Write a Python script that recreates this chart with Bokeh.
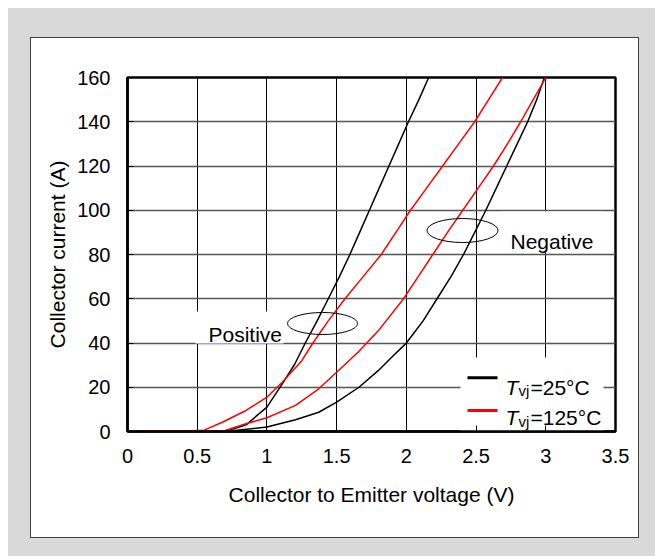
from bokeh.plotting import figure
from bokeh.models import Range1d, FixedTicker, BoxAnnotation, Label
from bokeh.embed import file_html
from bokeh.resources import INLINE

# ---------------- data ----------------
x_ticks = [0, 0.5, 1, 1.5, 2, 2.5, 3, 3.5]
x_tick_labels = ["0", "0.5", "1", "1.5", "2", "2.5", "3", "3.5"]
y_ticks = [0, 20, 40, 60, 80, 100, 120, 140, 160]
y_tick_labels = ["0", "20", "40", "60", "80", "100", "120", "140", "160"]

# "Positive" group, Tvj = 25 C (black, steep)
pos25_v = [0.55, 0.73, 0.85, 1.00, 1.11, 1.20, 1.275, 1.36, 1.44, 1.52, 1.595,
           1.665, 1.735, 1.805, 1.875, 1.945, 2.015, 2.09, 2.16]
pos25_i = [0.2, 0.5, 3.0, 11.0, 21.5, 30.5, 40, 50, 60, 70, 80,
           90, 100, 110, 120, 130, 140, 150, 160]

# "Positive" group, Tvj = 125 C (red, steep)
pos125_v = [0.10, 0.45, 0.55, 0.68, 0.85, 1.00, 1.11, 1.25, 1.33, 1.44, 1.56,
            1.69, 1.82, 1.925, 2.03, 2.145, 2.26, 2.375, 2.49, 2.59, 2.69]
pos125_i = [0.2, 0.3, 0.6, 4.2, 9.5, 15.5, 22.3, 32, 40, 50, 60,
            70, 80, 90, 100, 110, 120, 130, 140, 150, 160]

# "Negative" group, Tvj = 125 C (red, shallow)
neg125_v = [0.15, 0.70, 0.85, 1.00, 1.205, 1.372, 1.50, 1.655, 1.80, 1.98, 2.085,
            2.19, 2.295, 2.405, 2.515, 2.625, 2.725, 2.82, 2.91, 3.00]
neg125_i = [0.2, 0.5, 3.5, 6.2, 11.8, 19.3, 26.8, 35.9, 45.6, 60, 70,
            80, 90, 100, 110, 120, 130, 140, 150, 160]

# "Negative" group, Tvj = 25 C (black, shallow)
neg25_v = [0.60, 0.77, 1.00, 1.205, 1.372, 1.50, 1.66, 1.80, 1.92, 2.00, 2.12,
           2.22, 2.32, 2.41, 2.49, 2.57, 2.645, 2.72, 2.795, 2.87, 2.935, 2.99]
neg25_i = [0.2, 0.5, 2.0, 5.3, 8.7, 13.3, 20, 27.6, 35.1, 40, 50,
           60, 70, 80, 90, 100, 110, 120, 130, 140, 150, 160]

# ---------------- layout (page px) ----------------
PANEL_L, PANEL_T, PANEL_R, PANEL_B = 31, 38, 638, 537   # white panel
FL, FR, FT, FB = 127, 615, 77, 431                      # plot frame
XMAX, YMAX = 3.5, 160
FONT = "Liberation Sans"
GRAY = "#d9d9d9"

def vx(px):   # page px -> data x
    return (px - FL) / (FR - FL) * XMAX

def iy(py):   # page px -> data y
    return (FB - py) / (FB - FT) * YMAX

p = figure(width=PANEL_R - PANEL_L, height=PANEL_B - PANEL_T,
           output_backend="svg", toolbar_location=None,
           x_range=Range1d(0, XMAX), y_range=Range1d(0, YMAX),
           min_border_left=FL - PANEL_L, min_border_right=PANEL_R - FR,
           min_border_top=FT - PANEL_T, min_border_bottom=PANEL_B - FB)
p.styles = {"margin-left": f"{PANEL_L}px", "margin-top": f"{PANEL_T}px",
            "box-shadow": f"0 0 0 1px #404040, 7px 0 0 30px {GRAY}"}
p.border_fill_color = "white"
p.background_fill_color = "white"
p.outline_line_color = "black"
p.outline_line_width = 2.5

# axes
p.xaxis.ticker = FixedTicker(ticks=x_ticks)
p.yaxis.ticker = FixedTicker(ticks=y_ticks)
p.xaxis.major_label_overrides = dict(zip(x_ticks, x_tick_labels))
p.yaxis.major_label_overrides = dict(zip(y_ticks, y_tick_labels))
for ax in (p.xaxis, p.yaxis):
    ax.axis_line_color = "black"
    ax.axis_line_width = 2.5
    ax.major_tick_in = 6
    ax.major_tick_out = 0
    ax.major_tick_line_color = "black"
    ax.minor_tick_line_color = None
    ax.major_label_text_font = FONT
    ax.major_label_text_font_size = "20px"
    ax.major_label_text_color = "black"
    ax.axis_label_text_font = FONT
    ax.axis_label_text_font_size = "21px"
    ax.axis_label_text_font_style = "normal"
    ax.axis_label_text_color = "black"
p.xaxis.axis_label = "Collector to Emitter voltage (V)"
p.yaxis.axis_label = "Collector current (A)"
p.xaxis.major_label_standoff = 17
p.yaxis.major_label_standoff = 17
p.xaxis.axis_label_standoff = 17
p.yaxis.axis_label_standoff = 5

p.xgrid.grid_line_color = "black"
p.xgrid.grid_line_width = 1
p.ygrid.grid_line_color = "#555555"
p.ygrid.grid_line_width = 1.5

# white boxes behind annotations / legend (cover grid, below curves)
for (l, t, r, b) in [(195, 311, 283, 343),     # Positive
                     (500, 211, 603, 252),     # Negative
                     (460, 357, 603, 431)]:    # legend
    p.add_layout(BoxAnnotation(left=vx(l), right=vx(r), top=iy(t), bottom=iy(b),
                               fill_color="white", fill_alpha=1, line_color=None,
                               level="underlay"))

# curves
p.line(neg25_v, neg25_i, line_color="black", line_width=1.5)
p.line(pos25_v, pos25_i, line_color="black", line_width=1.5)
p.line(neg125_v, neg125_i, line_color="red", line_width=1.5)
p.line(pos125_v, pos125_i, line_color="red", line_width=1.5)

# ellipses
p.ellipse(x=[vx(322), vx(462)], y=[iy(323), iy(230)], width=[70, 71], height=[22, 24],
          width_units="screen", height_units="screen",
          fill_color=None, line_color="black", line_width=1)

p.add_layout(Label(x=vx(208), y=iy(334), text="Positive", text_font=FONT,
                   text_font_size="21px", text_color="black", text_baseline="alphabetic"))
p.add_layout(Label(x=vx(510), y=iy(240.7), text="Negative", text_font=FONT,
                   text_font_size="21px", text_color="black", text_baseline="alphabetic"))

# legend (manual, for italic T and subscript vj)
for k, (col, temp) in enumerate([("black", "=25°C"), ("red", "=125°C")]):
    dy = k * 30.5
    line_y = 377.3 + k * 32.7
    p.segment(x0=[vx(467)], x1=[vx(497)], y0=[iy(line_y)], y1=[iy(line_y)],
              line_color=col, line_width=3)
    p.add_layout(Label(x=vx(505), y=iy(386.7 + dy), text="T", text_font=FONT,
                       text_font_size="21px", text_font_style="italic",
                       text_color="black", text_baseline="alphabetic"))
    p.add_layout(Label(x=vx(518), y=iy(390 + dy), text="vj", text_font=FONT,
                       text_font_size="15px", text_color="black",
                       text_baseline="alphabetic"))
    p.add_layout(Label(x=vx(530), y=iy(386.7 + dy), text=temp, text_font=FONT,
                       text_font_size="21px", text_color="black",
                       text_baseline="alphabetic"))

open("out.html", "w").write(file_html(p, INLINE))
